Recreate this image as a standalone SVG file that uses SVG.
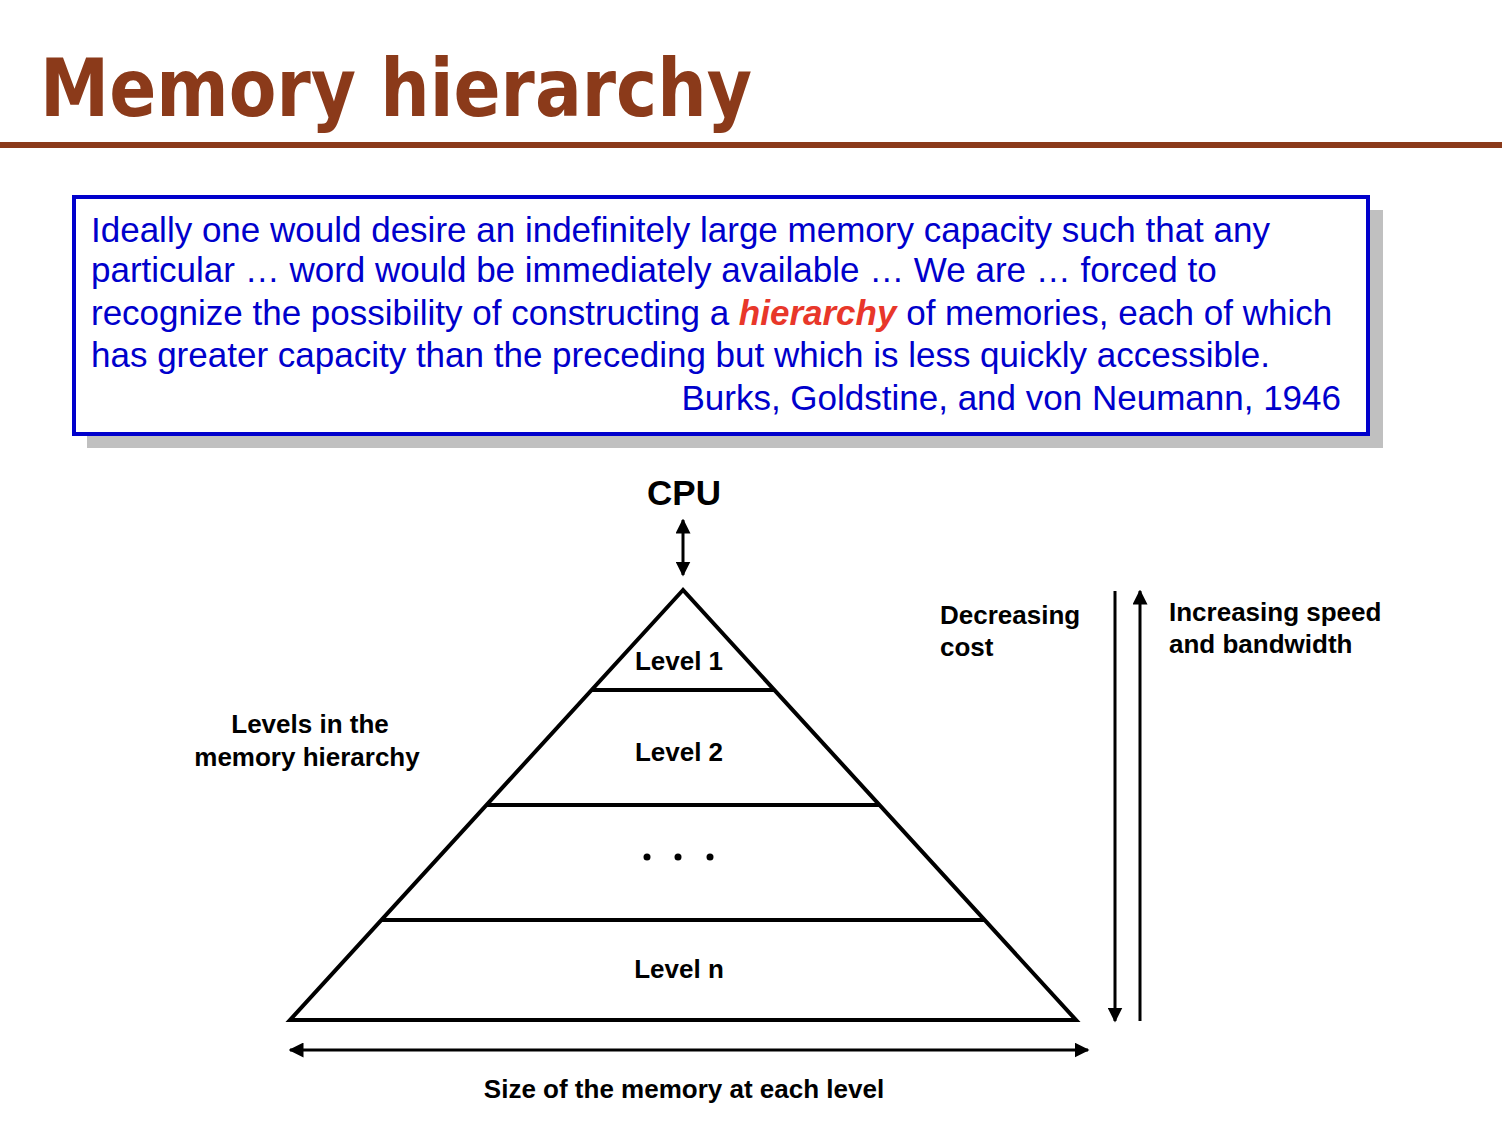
<svg xmlns="http://www.w3.org/2000/svg" width="1502" height="1128" viewBox="0 0 1502 1128">
<style>
.lbl{font-family:"Liberation Sans",Arial,sans-serif;font-weight:bold;font-size:26px;fill:#000}
.cpu{font-family:"Liberation Sans",Arial,sans-serif;font-weight:bold;font-size:35px;fill:#000}
.q{font-family:"Liberation Sans",Arial,sans-serif;font-size:35px;fill:#0000CC}
.ln{stroke:#000;stroke-width:4;fill:none}
.ar{stroke:#000;stroke-width:3;fill:none}
</style>
<defs>
<marker id="ah" viewBox="0 0 10 10" refX="9" refY="5" markerWidth="5" markerHeight="5" orient="auto-start-reverse" markerUnits="strokeWidth">
<path d="M0,0 L10,5 L0,10 Z" fill="#000"/>
</marker>
</defs>
<rect width="1502" height="1128" fill="#fff"/>
<g id="title">
<text x="40" y="116" font-family="'DejaVu Sans',Verdana,sans-serif" font-weight="bold" font-size="80" fill="#8B3A1A" textLength="712" lengthAdjust="spacingAndGlyphs">Memory hierarchy</text>
<rect x="0" y="142" width="1502" height="6" fill="#8B3A1A"/>
</g>
<g id="quote">
<rect x="87" y="210" width="1296" height="238" fill="#C0C0C0"/>
<rect x="74" y="197" width="1294" height="237" fill="#fff" stroke="#0000CC" stroke-width="4"/>
<text class="q" x="91" y="242">Ideally one would desire an indefinitely large memory capacity such that any</text>
<text class="q" x="91" y="282">particular … word would be immediately available … We are … forced to</text>
<text class="q" x="91" y="325">recognize the possibility of constructing a <tspan fill="#E8372A" font-weight="bold" font-style="italic">hierarchy</tspan> of memories, each of which</text>
<text class="q" x="91" y="367">has greater capacity than the preceding but which is less quickly accessible.</text>
<text class="q" x="1341" y="410" text-anchor="end">Burks, Goldstine, and von Neumann, 1946</text>
</g>
<g id="cpu">
<text class="cpu" x="684" y="505" text-anchor="middle">CPU</text>
</g>
<g id="pyramid">
<path class="ln" d="M683,590 L290,1020 L1076,1020 Z" stroke-linejoin="miter"/>
</g>
<g id="level1">
<line class="ln" x1="592" y1="690" x2="774" y2="690"/>
<text class="lbl" x="679" y="670" text-anchor="middle">Level 1</text>
</g>
<g id="level2">
<line class="ln" x1="487" y1="805" x2="879" y2="805"/>
<text class="lbl" x="679" y="761" text-anchor="middle">Level 2</text>
</g>
<g id="levelDots">
<line class="ln" x1="381" y1="920" x2="985" y2="920"/>
<circle cx="647" cy="857" r="3.5" fill="#000"/>
<circle cx="678" cy="857" r="3.5" fill="#000"/>
<circle cx="710" cy="857" r="3.5" fill="#000"/>
</g>
<g id="levelN">
<text class="lbl" x="679" y="978" text-anchor="middle">Level n</text>
</g>
<g id="levelsLabel">
<text class="lbl" x="310" y="733" text-anchor="middle">Levels in the</text>
<text class="lbl" x="307" y="766" text-anchor="middle">memory hierarchy</text>
</g>
<g id="costLabel">
<text class="lbl" x="940" y="624">Decreasing</text>
<text class="lbl" x="940" y="656">cost</text>
</g>
<g id="speedLabel">
<text class="lbl" x="1169" y="621">Increasing speed</text>
<text class="lbl" x="1169" y="653">and bandwidth</text>
</g>
<g id="sizeLabel">
<text class="lbl" x="684" y="1098" text-anchor="middle">Size of the memory at each level</text>
</g>
<g id="connectors">
<line class="ar" x1="683" y1="520" x2="683" y2="575" marker-start="url(#ah)" marker-end="url(#ah)"/>
<line class="ar" x1="1115" y1="591" x2="1115" y2="1021" marker-end="url(#ah)"/>
<line class="ar" x1="1140" y1="1021" x2="1140" y2="591" marker-end="url(#ah)"/>
<line class="ar" x1="290" y1="1050" x2="1088" y2="1050" marker-start="url(#ah)" marker-end="url(#ah)"/>
</g>
</svg>
